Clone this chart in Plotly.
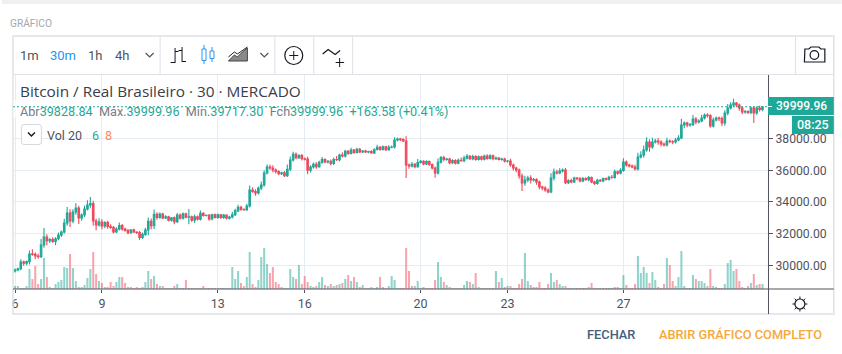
import plotly.graph_objects as go

TEAL = "#1fa898"
RED = "#ef4a5c"
DARK = "#50535e"
GRID = "#e5edf3"
FRAME = "#e0e1e6"
FONT = "Roboto"

# 30-minute chart, resampled: ten candles per day starting on day 6
start_day = 6
candles_per_day = 10
first_open = 29650

closes = [
    29715, 29790, 30220, 30140, 30240, 30725, 30700, 30600, 30560, 31290,
    31795, 31560, 31640, 31520, 31680, 31920, 32110, 32680, 33305, 32805,
    33370, 33620, 32990, 33180, 33560, 33810, 33900, 32800, 32550, 32740,
    32490, 32700, 32460, 32400, 32120, 32300, 32520, 32300, 32210, 32060,
    32240, 32110, 32080, 31760, 31960, 32235, 32780, 32500, 33220, 33020,
    33240, 33000, 33060, 32860, 33000, 32760, 33170, 32980, 33250, 33040,
    33060, 32860, 33070, 32920, 33280, 33150, 33160, 32930, 33190, 33030,
    33190, 33020, 33170, 32980, 33050, 33200, 33440, 33660, 33530, 33520,
    33750, 34755, 34660, 34565, 34880, 35070, 35825, 36205, 36140, 36015,
    35920, 35780, 35840, 35660, 36060, 36645, 37000, 36790, 36930, 36720,
    36700, 36000, 36200, 36380, 36230, 36500, 36680, 36520, 36570, 36420,
    36680, 36660, 36950, 36900, 37200, 37060, 37270, 37120, 37320, 37160,
    37210, 37150, 37180, 37090, 37310, 37440, 37310, 37470, 37290, 37450,
    37465, 37905, 37970, 37930, 37845, 36330, 36270, 36380, 36230, 36490,
    36560, 36400, 36540, 36360, 36140, 35825, 36500, 36800, 36680, 36700,
    36470, 36610, 36450, 36630, 36600, 36760, 36880, 36720, 36860, 36680,
    36850, 36690, 36890, 36750, 36910, 36720, 36770, 36680, 36700, 36570,
    36580, 36330, 36140, 36015, 35640, 35195, 35385, 35510, 35385, 35420,
    35260, 34945, 34880, 34755, 34630, 35510, 35890, 35825, 35950, 36015,
    35220, 35350, 35270, 35500, 35460, 35330, 35480, 35400, 35540, 35270,
    35160, 35370, 35330, 35480, 35420, 35560, 35540, 35900, 35820, 35990,
    36520, 36330, 36270, 36205, 36080, 36835, 36960, 37275, 37780, 37465,
    37780, 37845, 37780, 37655, 37590, 37845, 37810, 37780, 37905, 38030,
    38850, 38975, 38850, 38880, 39230, 39040, 39100, 39290, 39480, 39440,
    38790, 39165, 39290, 39250, 38975, 39605, 39920, 40110, 40235, 40110,
    39920, 39670, 39700, 39640, 39920, 39605, 39920, 39828.84, 39999.96,
]

upper_wicks = [
    90, 70, 180, 90, 80, 220, 300, 120, 140, 380,
    565, 180, 90, 140, 100, 150, 90, 260, 380, 240,
    180, 300, 140, 110, 220, 300, 415, 180, 140, 240,
    170, 90, 120, 140, 90, 110, 180, 90, 70, 80,
    50, 70, 50, 90, 120, 140, 240, 180, 300, 140,
    90, 80, 110, 70, 50, 90, 140, 110, 80, 70,
    505, 90, 140, 80, 180, 70, 50, 90, 70, 80,
    90, 50, 70, 50, 80, 180, 140, 170, 110, 70,
    140, 280, 180, 150, 90, 220, 180, 150, 140, 180,
    90, 80, 70, 110, 300, 220, 170, 110, 70, 90,
    80, 150, 120, 110, 140, 90, 150, 80, 70, 110,
    120, 210, 90, 180, 90, 80, 150, 70, 90, 80,
    70, 80, 50, 90, 70, 170, 80, 90, 70, 120,
    90, 170, 90, 80, 80, 300, 90, 140, 70, 220,
    90, 70, 90, 80, 70, 90, 240, 90, 120, 80,
    80, 90, 80, 110, 170, 150, 140, 80, 120, 90,
    80, 70, 90, 110, 90, 80, 90, 70, 90, 80,
    70, 140, 90, 80, 90, 150, 270, 140, 170, 90,
    80, 90, 70, 110, 90, 300, 220, 140, 180, 90,
    120, 90, 110, 90, 80, 110, 90, 80, 90, 70,
    70, 90, 80, 70, 70, 90, 140, 150, 90, 140,
    240, 90, 80, 90, 140, 270, 240, 280, 300, 180,
    260, 140, 180, 110, 90, 200, 90, 80, 140, 180,
    400, 90, 80, 90, 250, 120, 110, 210, 90, 110,
    90, 150, 90, 90, 140, 170, 250, 180, 270, 70,
    90, 90, 90, 80, 90, 90, 90, 150, 0,
]

lower_wicks = [
    90, 80, 90, 150, 120, 180, 90, 210, 140, 90,
    180, 280, 140, 90, 240, 90, 120, 90, 180, 380,
    140, 180, 380, 180, 120, 90, 170, 300, 330, 90,
    200, 140, 150, 90, 110, 80, 90, 120, 90, 90,
    80, 70, 90, 150, 90, 80, 330, 220, 200, 140,
    80, 90, 70, 90, 110, 170, 90, 90, 80, 70,
    450, 110, 180, 90, 90, 80, 70, 110, 80, 70,
    80, 70, 80, 90, 90, 90, 90, 90, 80, 80,
    90, 90, 80, 170, 90, 140, 110, 90, 110, 140,
    120, 90, 80, 90, 80, 110, 90, 90, 80, 110,
    90, 250, 150, 90, 140, 80, 90, 80, 90, 120,
    90, 80, 110, 90, 90, 80, 70, 80, 70, 70,
    80, 70, 80, 50, 70, 70, 80, 70, 80, 70,
    70, 90, 80, 90, 70, 820, 180, 90, 110, 80,
    70, 80, 70, 70, 90, 300, 90, 70, 110, 90,
    90, 70, 90, 80, 70, 90, 80, 70, 90, 90,
    70, 80, 70, 90, 70, 90, 80, 70, 90, 90,
    80, 110, 150, 140, 180, 510, 170, 140, 220, 90,
    180, 150, 140, 110, 80, 80, 150, 90, 80, 90,
    90, 80, 90, 80, 90, 90, 80, 70, 90, 90,
    90, 80, 70, 80, 70, 70, 80, 80, 110, 80,
    90, 110, 90, 80, 90, 90, 90, 170, 110, 300,
    110, 90, 170, 140, 90, 90, 110, 140, 90, 80,
    70, 200, 140, 110, 90, 150, 90, 80, 90, 110,
    120, 90, 90, 150, 210, 170, 140, 90, 120, 140,
    180, 140, 110, 90, 110, 625, 110, 130, 111.54,
]

volumes = [
    3, 3, 1, 1, 3, 20, 10, 23, 5, 10,
    31, 12, 2, 1, 5, 7, 9, 22, 21, 35,
    21, 8, 2, 2, 4, 11, 20, 37, 15, 8,
    6, 2, 2, 7, 3, 7, 12, 12, 6, 2,
    2, 1, 2, 1, 2, 7, 18, 10, 13, 5,
    3, 3, 1, 1, 1, 3, 5, 1, 1, 9,
    1, 1, 1, 1, 1, 3, 1, 1, 1, 1,
    1, 1, 1, 1, 1, 22, 10, 18, 6, 3,
    12, 37, 5, 2, 9, 32, 41, 25, 16, 22,
    7, 5, 2, 1, 1, 20, 12, 10, 24, 5,
    13, 7, 3, 2, 3, 7, 12, 4, 3, 5,
    3, 4, 5, 6, 10, 14, 8, 12, 7, 2,
    4, 1, 1, 2, 1, 2, 12, 2, 1, 3,
    13, 9, 1, 1, 1, 41, 18, 3, 3, 8,
    1, 2, 1, 1, 1, 9, 27, 12, 7, 4,
    2, 1, 1, 1, 1, 4, 8, 7, 5, 16,
    2, 1, 1, 1, 1, 1, 18, 7, 11, 2,
    3, 3, 1, 1, 5, 10, 36, 8, 4, 2,
    2, 7, 1, 1, 5, 16, 7, 9, 5, 3,
    3, 1, 1, 1, 1, 1, 1, 1, 2, 6,
    1, 1, 1, 1, 1, 1, 1, 2, 2, 1,
    14, 4, 1, 1, 5, 33, 16, 22, 16, 6,
    17, 9, 2, 1, 5, 31, 24, 8, 3, 12,
    38, 3, 1, 1, 14, 10, 8, 8, 6, 3,
    20, 3, 2, 1, 1, 5, 26, 29, 18, 20,
    8, 2, 1, 3, 6, 15, 4, 5, 5,
]

x_tick_days = [6, 9, 13, 16, 20, 23, 27]
y_tick_prices = [30000, 32000, 34000, 36000, 38000]

n = len(closes)
days = [start_day + i / candles_per_day for i in range(n)]
opens = [first_open] + closes[:-1]
highs = [max(o, c) + u for o, c, u in zip(opens, closes, upper_wicks)]
lows = [min(o, c) - l for o, c, l in zip(opens, closes, lower_wicks)]
vol_colors = ["rgba(31,168,152,0.5)" if c >= o else "rgba(239,74,92,0.5)" for o, c in zip(opens, closes)]

# page-pixel helpers for the chrome around the plot
PL, PR, PT, PB = 11, 768, 75, 289
fx = lambda p: (p - PL) / (PR - PL)
fy = lambda p: (PB - p) / (PB - PT)


def line(x0, y0, x1, y1, color=FRAME, width=1):
    return dict(type="line", xref="paper", yref="paper", x0=fx(x0), y0=fy(y0), x1=fx(x1), y1=fy(y1),
                line=dict(color=color, width=width), layer="above")


def rect(x0, y0, x1, y1, fill="rgba(0,0,0,0)", color=None, width=1, opacity=1):
    return dict(type="rect", xref="paper", yref="paper", x0=fx(x0), y0=fy(y0), x1=fx(x1), y1=fy(y1),
                fillcolor=fill, line=dict(color=color or "rgba(0,0,0,0)", width=width), opacity=opacity, layer="above")


def poly(points, color=DARK, width=1.2, fill=None, close=False):
    d = "M" + " L".join(f"{fx(a):.5f},{fy(b):.5f}" for a, b in points) + (" Z" if close else "")
    return dict(type="path", xref="paper", yref="paper", path=d, fillcolor=fill or "rgba(0,0,0,0)",
                line=dict(color=color, width=width), layer="above")


def circle(cx, cy, r, color=DARK, width=1.2):
    return dict(type="circle", xref="paper", yref="paper", x0=fx(cx - r), y0=fy(cy + r), x1=fx(cx + r), y1=fy(cy - r),
                line=dict(color=color, width=width), layer="above")


def text(x, y, s, size=13, color=DARK, anchor="left", weight=None, family=FONT):
    return dict(xref="paper", yref="paper", x=fx(x - 2 if anchor == "left" else x), y=fy(y), text=s, showarrow=False,
                xanchor=anchor, yanchor="middle", borderpad=0, borderwidth=0,
                font=dict(family=family, size=size, color=color, weight=weight))


shapes = [
    rect(0, 0, 842, 4, fill="#f0f0f0"),
    rect(11, 36, 834, 314, color=FRAME, width=1.5),
    line(11, 74.5, 834, 74.5),
    line(158.5, 36, 158.5, 74), line(273.5, 36, 273.5, 74), line(312.5, 36, 312.5, 74),
    line(351.5, 36, 351.5, 74), line(795.5, 36, 795.5, 74),
    # fade behind the legend
    rect(11, 100, 448, 117, fill="rgba(255,255,255,0.72)"),
    # price line
    dict(type="line", xref="paper", yref="y", x0=0, x1=1, y0=closes[-1], y1=closes[-1],
         line=dict(color=TEAL, width=1, dash="2px 2px"), layer="above"),
    # axes
    line(768.5, 75, 768.5, 314, DARK, 1),
    line(11, 289, 834, 289, DARK, 1),
    # chevrons
    poly([(144, 53), (148, 57), (152, 53)]),
    poly([(259, 53), (263, 57), (267, 53)]),
    # bars icon
    line(173.5, 48, 173.5, 63, "#131722"), line(169, 62.5, 173.5, 62.5, "#131722"), line(173.5, 51.5, 177, 51.5, "#131722"),
    line(180.5, 47, 180.5, 62, "#131722"), line(177, 50.5, 180.5, 50.5, "#131722"), line(180.5, 61.5, 184.5, 61.5, "#131722"),
    # candles icon
    rect(200.5, 49, 204.5, 60.5, color="#2196f3"), line(202.5, 45, 202.5, 49, "#2196f3"), line(202.5, 60.5, 202.5, 64, "#2196f3"),
    rect(208.5, 51, 212.5, 58.5, color="#2196f3"), line(210.5, 47, 210.5, 51, "#2196f3"), line(210.5, 58.5, 210.5, 62, "#2196f3"),
    # area icon
    poly([(227, 61), (233, 55), (236, 57), (241, 52), (246, 48), (246, 61)], color="#444", width=1, fill="#8a8a8a", close=True),
    poly([(227, 57), (233, 52), (236, 54), (246, 47)], color="#222", width=1),
    # add indicator
    circle(292.5, 55.5, 9, "#131722"),
    line(288, 55.5, 297, 55.5, "#131722"), line(292.5, 51, 292.5, 60, "#131722"),
    # compare
    poly([(321.5, 54), (327, 49.5), (334, 54.5), (339, 50.5)], "#131722"),
    line(334.5, 62.5, 343, 62.5, "#131722"), line(338.5, 58, 338.5, 67, "#131722"),
    # camera
    poly([(805, 49), (809, 49), (811, 47), (819, 47), (821, 49), (825, 49), (825, 62), (804.5, 62)], "#131722", 1.2, close=True),
    circle(814.5, 55, 4.3, "#131722"),
    # collapse button
    dict(type="path", xref="paper", yref="paper",
         path=f"M{fx(22)},{fy(124.5)} L{fx(37)},{fy(124.5)} Q{fx(39.5)},{fy(124.5)} {fx(39.5)},{fy(127)} L{fx(39.5)},{fy(142)} Q{fx(39.5)},{fy(144.5)} {fx(37)},{fy(144.5)} L{fx(22)},{fy(144.5)} Q{fx(19.5)},{fy(144.5)} {fx(19.5)},{fy(142)} L{fx(19.5)},{fy(127)} Q{fx(19.5)},{fy(124.5)} {fx(22)},{fy(124.5)} Z",
         fillcolor="#ffffff", line=dict(color="#d6d8de", width=1), layer="above"),
    poly([(26, 132.5), (29.5, 136), (33, 132.5)], "#131722", 1.4),
    # price tag
    rect(768, 97, 834, 115, fill=TEAL),
    rect(792, 116, 834, 134, fill=TEAL),
    line(768, 106.5, 772, 106.5, "#ffffff"),
    # sun icon
    circle(800, 304, 5, "#131722"),
    line(800, 296.5, 800, 299, "#131722"), line(800, 309, 800, 311.5, "#131722"),
    line(792.5, 304, 795, 304, "#131722"), line(805, 304, 807.5, 304, "#131722"),
    line(794.7, 298.7, 796.5, 300.5, "#131722"), line(803.5, 307.5, 805.3, 309.3, "#131722"),
    line(794.7, 309.3, 796.5, 307.5, "#131722"), line(803.5, 300.5, 805.3, 298.7, "#131722"),
]

GR = "#787b86"
annotations = [
    text(10, 23, "GRÁFICO", 10.2, "#a4a7ae"),
    text(20, 55, "1m", 13, DARK),
    text(50, 55, "30m", 13, "#2196f3"),
    text(88, 55, "1h", 13, DARK),
    text(115, 55, "4h", 13, DARK),
    text(20, 91, "Bitcoin / Real Brasileiro · 30 · MERCADO", 15.35, "#3a3d4a", family="Open Sans"),
    text(20, 111,
         f'<span style="color:{GR}">Abr</span>39828.84 <span style="color:{GR}"> Máx.</span>39999.96 '
         f'<span style="color:{GR}"> Mín.</span>39717.30 <span style="color:{GR}"> Fch</span>39999.96 '
         f' +163.58 (+0.41%)', 12.65, TEAL),
    text(47, 135, "Vol 20", 12.5, DARK),
    text(92, 135, "6", 12.5, TEAL),
    text(105, 135, "8", 12.5, "#ff8a50"),
    text(801.5, 106, f"{closes[-1]:.2f}", 12, "#ffffff", "center", 500),
    text(813.5, 124.5, "08:25", 12.5, "#ffffff", "center", 500),
    text(589, 334.5, "FECHAR", 12.8, "#44607c", weight=500),
    text(661, 334.5, "ABRIR GRÁFICO COMPLETO", 12.8, "#f7a83b", weight=500),
]

fig = go.Figure()
fig.add_trace(go.Candlestick(
    x=days, open=opens, high=highs, low=lows, close=closes, yaxis="y", whiskerwidth=0,
    increasing=dict(line=dict(color=TEAL, width=1.1), fillcolor=TEAL),
    decreasing=dict(line=dict(color=RED, width=1.1), fillcolor=RED),
    showlegend=False, hoverinfo="skip",
))
fig.add_trace(go.Bar(x=days, y=volumes, yaxis="y2", marker=dict(color=vol_colors, line=dict(width=0)),
                     showlegend=False, hoverinfo="skip"))

fig.update_layout(
    width=842, height=354, autosize=False,
    margin=dict(l=PL, r=842 - PR, t=PT, b=354 - PB, pad=0),
    paper_bgcolor="#ffffff", plot_bgcolor="#ffffff",
    font=dict(family=FONT, size=12, color=DARK),
    bargap=0.3, boxgap=0.25,
    xaxis=dict(range=[5.931, 31.99], tickmode="array", tickvals=x_tick_days, ticktext=[str(d) for d in x_tick_days],
               showgrid=True, gridcolor=GRID, gridwidth=1, zeroline=False, showline=False,
               ticks="outside", ticklen=3, tickcolor=DARK, rangeslider=dict(visible=False),
               tickfont=dict(family=FONT, size=12.5, color=DARK), fixedrange=True),
    yaxis=dict(range=[28518, 42000], side="right", tickmode="array", tickvals=y_tick_prices,
               ticktext=[f"{v:.2f}" for v in y_tick_prices],
               showgrid=True, gridcolor=GRID, gridwidth=1, zeroline=False, showline=False,
               ticks="outside", ticklen=4, tickcolor=DARK,
               tickfont=dict(family=FONT, size=12.2, color=DARK), fixedrange=True),
    yaxis2=dict(range=[0, 214], overlaying="y", side="left", visible=False, fixedrange=True),
    shapes=shapes, annotations=annotations,
)

fig.write_html("out.html", config=dict(displayModeBar=False),
               post_script="document.body.style.margin='0';document.body.style.overflow='hidden';")
